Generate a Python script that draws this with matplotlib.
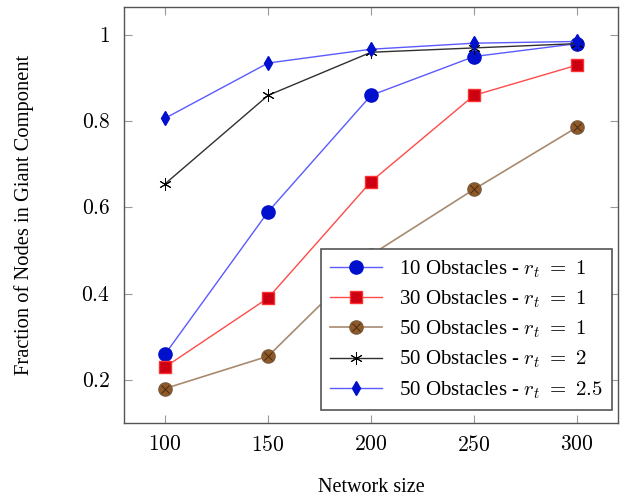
import matplotlib
matplotlib.use("Agg")
import matplotlib.pyplot as plt
from matplotlib.legend_handler import HandlerTuple

plt.rcParams['font.family'] = ['Liberation Serif', 'DejaVu Serif']
plt.rcParams['mathtext.fontset'] = 'cm'

network_size = [100, 150, 200, 250, 300]
obs10_rt1 = [0.26, 0.59, 0.86, 0.95, 0.98]
obs30_rt1 = [0.23, 0.39, 0.66, 0.86, 0.93]
obs50_rt1 = [0.18, 0.255, 0.49, 0.642, 0.786]
obs50_rt2 = [0.655, 0.86, 0.96, 0.97, 0.98]
obs50_rt25 = [0.807, 0.935, 0.967, 0.981, 0.985]

labels = [r"10 Obstacles - $r_t\ =\ 1$", r"30 Obstacles - $r_t\ =\ 1$",
          r"50 Obstacles - $r_t\ =\ 1$", r"50 Obstacles - $r_t\ =\ 2$",
          r"50 Obstacles - $r_t\ =\ 2.5$"]
xticklabels = ["$100$", "$150$", "$200$", "$250$", "$300$"]
yticks = [0.2, 0.4, 0.6, 0.8, 1.0]
yticklabels = ["$0.2$", "$0.4$", "$0.6$", "$0.8$", "$1$"]

fig = plt.figure(figsize=(6.2, 4.98), dpi=100)
ax = fig.add_axes([0.2, 0.1506, 0.797, 0.8354])

h1, = ax.plot(network_size, obs10_rt1, color='#5a5aff', lw=1.0, marker='o', ms=9.5,
              mfc='#0010cc', mec='#0010cc')
h2, = ax.plot(network_size, obs30_rt1, color='#ff4a4a', lw=1.0, marker='s', ms=9,
              mfc='#cc0010', mec='#ff3030')
h3, = ax.plot(network_size, obs50_rt1, color='#a88a70', lw=1.2, marker='o', ms=9.5,
              mfc='#8f5a28', mec='#7a5a3a')
h3x, = ax.plot(network_size, obs50_rt1, ls='none', marker='x', ms=6,
               mew=0.7, mec='#4a2a10')
h4, = ax.plot(network_size, obs50_rt2, color='#303030', lw=1.0, marker=(6, 2, 0), ms=9,
              mew=0.7, mec='black')
h5, = ax.plot(network_size, obs50_rt25, color='#5a5aff', lw=1.0, marker='d', ms=7.5,
              mfc='#0010cc', mec='#0010cc')

ax.set_xlim(80, 320)
ax.set_ylim(0.1, 1.065)
ax.set_xticks(network_size)
ax.set_xticklabels(xticklabels)
ax.set_yticks(yticks)
ax.set_yticklabels(yticklabels)
ax.tick_params(direction='in', length=6, color='#999999', width=0.8,
               top=True, right=True, labelsize=15.5)
ax.tick_params(axis='y', pad=10)
ax.tick_params(axis='x', pad=9)
for s in ax.spines.values():
    s.set_color('#555555')
    s.set_linewidth(1.0)

ax.set_xlabel("Network size", fontsize=14.5, labelpad=16)
ax.set_ylabel("Fraction of Nodes in Giant Component", fontsize=14.8, labelpad=34)

leg = ax.legend([h1, h2, (h3, h3x), h4, h5], labels,
                handler_map={tuple: HandlerTuple(ndivide=1)},
                loc='lower right', fontsize=15, frameon=True, fancybox=False,
                edgecolor='#555555', framealpha=1, borderpad=0.45,
                handlelength=2.5, handletextpad=0.8, labelspacing=0.42,
                borderaxespad=0, bbox_to_anchor=(0.988, 0.031))
leg.get_frame().set_linewidth(1.2)

fig.savefig("out.png", dpi=100)
